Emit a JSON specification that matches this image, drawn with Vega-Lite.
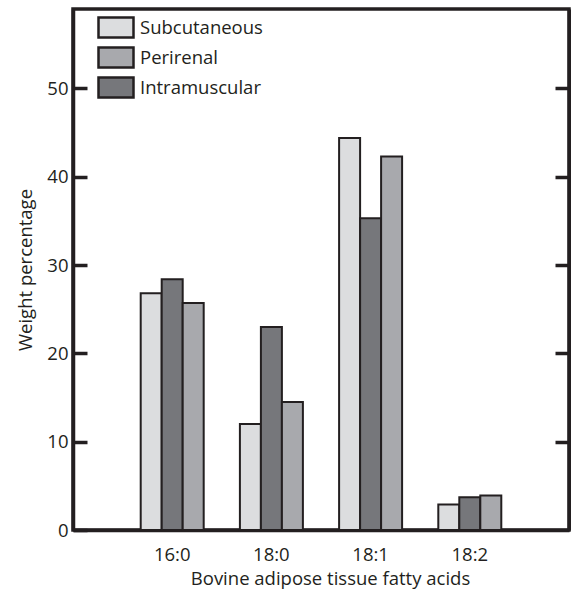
{
  "$schema": "https://vega.github.io/schema/vega-lite/v6.json",
  "width": 496,
  "height": 521,
  "autosize": "none",
  "padding": {"left": 73, "top": 9, "right": 2, "bottom": 64},
  "config": {
    "font": "Open Sans",
    "view": {"stroke": "#231f20", "strokeWidth": 3.5},
    "axis": {"labelColor": "#231f20", "titleColor": "#231f20", "labelFontSize": 18.5, "titleFontSize": 18.5, "titleFontWeight": "normal", "domainColor": "#231f20", "domainWidth": 3.5, "grid": false}
  },
  "data": {
    "values": [
      {"acid": "16:0", "tissue": "Subcutaneous", "value": 26.8},
      {"acid": "16:0", "tissue": "Intramuscular", "value": 28.4},
      {"acid": "16:0", "tissue": "Perirenal", "value": 25.7},
      {"acid": "18:0", "tissue": "Subcutaneous", "value": 12.0},
      {"acid": "18:0", "tissue": "Intramuscular", "value": 23.0},
      {"acid": "18:0", "tissue": "Perirenal", "value": 14.5},
      {"acid": "18:1", "tissue": "Subcutaneous", "value": 44.4},
      {"acid": "18:1", "tissue": "Intramuscular", "value": 35.3},
      {"acid": "18:1", "tissue": "Perirenal", "value": 42.3},
      {"acid": "18:2", "tissue": "Subcutaneous", "value": 2.9},
      {"acid": "18:2", "tissue": "Intramuscular", "value": 3.7},
      {"acid": "18:2", "tissue": "Perirenal", "value": 3.9}
    ]
  },
  "layer": [
    {
      "mark": {"type": "bar", "stroke": "#231f20", "strokeWidth": 2},
      "encoding": {
        "x": {
          "field": "acid", "type": "nominal",
          "scale": {"paddingInner": 0.365, "paddingOuter": 0.6825},
          "axis": {"ticks": false, "labelAngle": 0, "labelPadding": 15, "title": "Bovine adipose tissue fatty acids", "titlePadding": 6, "titleX": 257}
        },
        "xOffset": {
          "field": "tissue", "type": "nominal",
          "scale": {"domain": ["Subcutaneous", "Intramuscular", "Perirenal"], "paddingInner": 0, "paddingOuter": 0}
        },
        "y": {
          "field": "value", "type": "quantitative",
          "scale": {"domain": [0, 59], "nice": false},
          "axis": {"values": [0, 10, 20, 30, 40, 50], "tickSize": -14, "tickWidth": 3.5, "tickColor": "#231f20", "labelPadding": 19, "title": "Weight percentage", "titlePadding": 11}
        },
        "color": {
          "field": "tissue", "type": "nominal",
          "scale": {"domain": ["Subcutaneous", "Perirenal", "Intramuscular"], "range": ["#dcdddf", "#a8a9ad", "#76777b"]},
          "legend": {
            "orient": "none", "legendX": 31.5, "legendY": 7, "title": null,
            "symbolType": "M-1.75,-1L1.75,-1L1.75,1L-1.75,1Z", "symbolSize": 400,
            "symbolStrokeColor": "#231f20", "symbolStrokeWidth": 2.5, "symbolOpacity": 1,
            "labelFontSize": 18.5, "labelColor": "#231f20", "labelOffset": 12.5, "rowPadding": -1
          }
        }
      }
    },
    {
      "mark": {"type": "point", "opacity": 0},
      "encoding": {
        "y": {
          "field": "value", "type": "quantitative",
          "axis": {"orient": "right", "values": [10, 20, 30, 40, 50], "labels": false, "title": null, "tickSize": -14, "tickWidth": 3.5, "tickColor": "#231f20"}
        }
      }
    }
  ],
  "resolve": {"axis": {"y": "independent"}}
}
